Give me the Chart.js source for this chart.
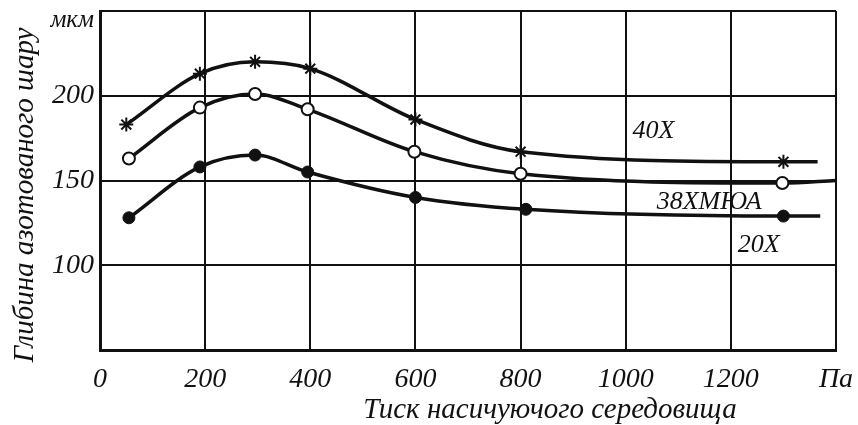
<!DOCTYPE html>
<html>
<head>
<meta charset="utf-8">
<script src="https://cdn.jsdelivr.net/npm/chart.js@4/dist/chart.umd.min.js"></script>
<style>
  html, body { margin: 0; padding: 0; background: #fff; }
  #wrap { width: 858px; height: 425px; }
</style>
</head>
<body>
<div id="wrap"><canvas id="nitrideChart" width="858" height="425"></canvas></div>
<script>
// pressure, Pa (last point of each series is the bare line end, no marker)
const pressure40 = [50, 190, 295, 400, 600, 800, 1300, 1365];
const depth40 = [183, 213, 220, 216, 186, 167, 161, 161];

const pressure38 = [55, 190, 295, 395, 598, 800, 1298, 1400];
const depth38 = [163, 193, 201, 192, 167, 154, 148.5, 150];

const pressure20 = [55, 190, 295, 395, 600, 810, 1300, 1370];
const depth20 = [128, 158, 165, 155, 140, 133, 129, 129];

const xTicks = [0, 200, 400, 600, 800, 1000, 1200, 1400];
const xTickLabels = ['0', '200', '400', '600', '800', '1000', '1200', 'Па'];
const yTicks = [50, 100, 150, 200, 250];
// the unit sits a little below the top line, so it goes on a second line
const yTickLabels = ['', '100', '150', '200', ['', 'мкм']];

const seriesNames = ['40X', '38ХМЮА', '20X'];
// label anchor (left, middle) in data units
const labelX = [1013, 1059, 1213];
const labelY = [179, 137, 112];

const xTitle = 'Тиск насичуючого середовища';
const yTitle = 'Глибина азотованого шару';

const serif = '"Liberation Serif", "DejaVu Serif", serif';
const ink = '#111';

function pts(xs, ys) {
  return xs.map((x, i) => ({ x: x, y: ys[i] }));
}
function radii(n, r) {
  const a = new Array(n).fill(r);
  a[n - 1] = 0;
  return a;
}

const textLayer = {
  id: 'textLayer',
  afterDraw(chart) {
    const ctx = chart.ctx;
    const xs = chart.scales.x, ys = chart.scales.y;
    const area = chart.chartArea;
    ctx.save();
    ctx.fillStyle = ink;
    ctx.font = 'italic 26px ' + serif;
    ctx.textAlign = 'left';
    ctx.textBaseline = 'middle';
    seriesNames.forEach((name, i) => {
      ctx.fillText(name, xs.getPixelForValue(labelX[i]), ys.getPixelForValue(labelY[i]));
    });

    // axis titles, placed as in the original figure
    ctx.font = 'italic 29px ' + serif;
    ctx.textAlign = 'center';
    ctx.fillText(xTitle, area.left + 450, area.bottom + 60);

    ctx.translate(25, area.top + 184);
    ctx.rotate(-Math.PI / 2);
    ctx.fillText(yTitle, 0, 0);
    ctx.restore();
  }
};

const ctx = document.getElementById('nitrideChart').getContext('2d');

new Chart(ctx, {
  type: 'line',
  data: {
    datasets: [
      {
        label: seriesNames[0],
        data: pts(pressure40, depth40),
        borderColor: ink,
        borderWidth: 3.5,
        cubicInterpolationMode: 'monotone',
        pointStyle: 'star',
        pointRadius: radii(pressure40.length, 7),
        pointBorderColor: ink,
        pointBorderWidth: 2,
        pointBackgroundColor: ink
      },
      {
        label: seriesNames[1],
        data: pts(pressure38, depth38),
        borderColor: ink,
        borderWidth: 3.5,
        cubicInterpolationMode: 'monotone',
        pointStyle: 'circle',
        pointRadius: radii(pressure38.length, 6),
        pointBorderColor: ink,
        pointBorderWidth: 2,
        pointBackgroundColor: '#fff'
      },
      {
        label: seriesNames[2],
        data: pts(pressure20, depth20),
        borderColor: ink,
        borderWidth: 3.5,
        cubicInterpolationMode: 'monotone',
        pointStyle: 'circle',
        pointRadius: radii(pressure20.length, 6),
        pointBorderColor: ink,
        pointBorderWidth: 1,
        pointBackgroundColor: ink
      }
    ]
  },
  options: {
    responsive: false,
    animation: false,
    events: [],
    layout: { padding: { left: 0, right: 22, top: 11, bottom: 0 } },
    scales: {
      x: {
        type: 'linear',
        min: 0,
        max: 1400,
        afterBuildTicks(scale) {
          scale.ticks = xTicks.map(v => ({ value: v }));
        },
        afterFit(scale) {
          scale.height = 75;
          scale.paddingLeft = 0;
          scale.paddingRight = 0;
        },
        grid: { color: ink, lineWidth: 2, drawTicks: false },
        border: { color: ink, width: 3 },
        ticks: {
          color: ink,
          padding: 13,
          maxRotation: 0,
          autoSkip: false,
          font: { family: serif, style: 'italic', size: 28 },
          callback: (v) => xTickLabels[xTicks.indexOf(v)]
        }
      },
      y: {
        type: 'linear',
        min: 50,
        max: 250,
        afterBuildTicks(scale) {
          scale.ticks = yTicks.map(v => ({ value: v }));
        },
        afterFit(scale) {
          scale.width = 100;
          scale.paddingTop = 0;
          scale.paddingBottom = 0;
        },
        grid: { color: ink, lineWidth: 2, drawTicks: false },
        border: { color: ink, width: 3 },
        ticks: {
          color: ink,
          padding: 6,
          autoSkip: false,
          font: (c) => {
            const top = c.tick && c.tick.value === 250;
            return {
              family: serif,
              style: 'italic',
              size: top ? 25 : 28,
              lineHeight: top ? 0.75 : 1.2
            };
          },
          callback: (v) => yTickLabels[yTicks.indexOf(v)]
        }
      }
    },
    plugins: {
      legend: { display: false },
      tooltip: { enabled: false }
    }
  },
  plugins: [textLayer]
});
</script>
</body>
</html>
